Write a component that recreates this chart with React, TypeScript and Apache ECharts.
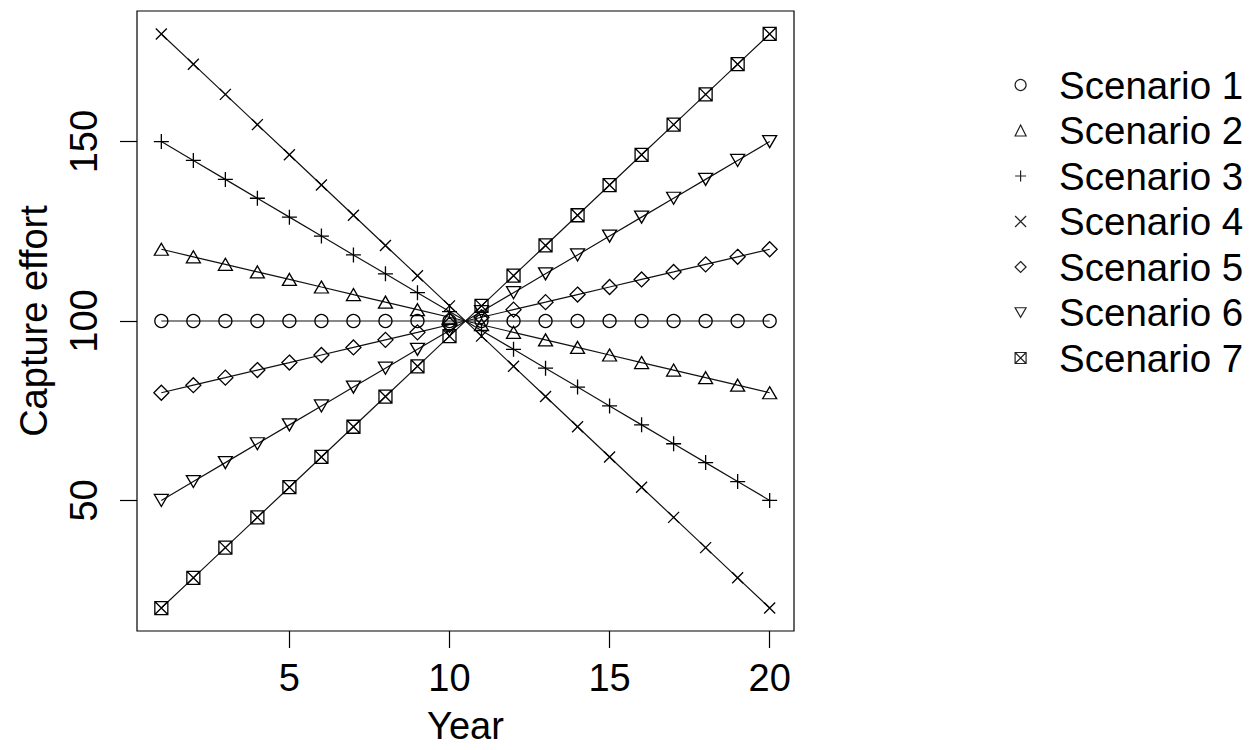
import React, { useEffect, useRef } from "react";
import * as echarts from "echarts";

const years = [1, 2, 3, 4, 5, 6, 7, 8, 9, 10, 11, 12, 13, 14, 15, 16, 17, 18, 19, 20];

const scenario1 = [100, 100, 100, 100, 100, 100, 100, 100, 100, 100, 100, 100, 100, 100, 100, 100, 100, 100, 100, 100];
const scenario2 = [120, 117.89, 115.79, 113.68, 111.58, 109.47, 107.37, 105.26, 103.16, 101.05, 98.95, 96.84, 94.74, 92.63, 90.53, 88.42, 86.32, 84.21, 82.11, 80];
const scenario3 = [150, 144.74, 139.47, 134.21, 128.95, 123.68, 118.42, 113.16, 107.89, 102.63, 97.37, 92.11, 86.84, 81.58, 76.32, 71.05, 65.79, 60.53, 55.26, 50];
const scenario4 = [180, 171.58, 163.16, 154.74, 146.32, 137.89, 129.47, 121.05, 112.63, 104.21, 95.79, 87.37, 78.95, 70.53, 62.11, 53.68, 45.26, 36.84, 28.42, 20];
const scenario5 = [80, 82.11, 84.21, 86.32, 88.42, 90.53, 92.63, 94.74, 96.84, 98.95, 101.05, 103.16, 105.26, 107.37, 109.47, 111.58, 113.68, 115.79, 117.89, 120];
const scenario6 = [50, 55.26, 60.53, 65.79, 71.05, 76.32, 81.58, 86.84, 92.11, 97.37, 102.63, 107.89, 113.16, 118.42, 123.68, 128.95, 134.21, 139.47, 144.74, 150];
const scenario7 = [20, 28.42, 36.84, 45.26, 53.68, 62.11, 70.53, 78.95, 87.37, 95.79, 104.21, 112.63, 121.05, 129.47, 137.89, 146.32, 154.74, 163.16, 171.58, 180];

const seriesNames = ["Scenario 1", "Scenario 2", "Scenario 3", "Scenario 4", "Scenario 5", "Scenario 6", "Scenario 7"];
const seriesValues = [scenario1, scenario2, scenario3, scenario4, scenario5, scenario6, scenario7];

const xTicks = [5, 10, 15, 20];
const yTicks = [50, 100, 150];

const symbols = [
  "circle",
  "triangle",
  "path://M0,5L10,5M5,0L5,10",
  "path://M0,0L10,10M10,0L0,10",
  "diamond",
  "path://M0,0L10,0L5,8.66Z",
  "path://M0,0L10,0L10,10L0,10ZM0,0L10,10M10,0L0,10",
];
const symbolSizes: any[] = [13, [14, 12], 15, 11, 15, [14, 12], 13];

const FONT = "'Liberation Sans', Arial, sans-serif";

export default function App() {
  const ref = useRef<HTMLDivElement>(null);
  useEffect(() => {
    if (!ref.current) return;
    const chart = echarts.init(ref.current, null, { renderer: "svg" });
    const markerStyle = { color: "rgba(0,0,0,0)", borderColor: "#000", borderWidth: 1.3 };
    const legendMarkerStyle = { color: "rgba(0,0,0,0)", borderColor: "#222", borderWidth: 1.2 };
    const option: any = {
      animation: false,
      backgroundColor: "#fff",
      textStyle: { fontFamily: FONT, color: "#000" },
      grid: {
        left: 137,
        right: 465,
        top: 11,
        bottom: 117,
        show: true,
        borderColor: "#000",
        borderWidth: 1.2,
        backgroundColor: "transparent",
      },
      xAxis: {
        type: "value",
        min: 0.24,
        max: 20.76,
        name: "Year",
        nameLocation: "middle",
        nameGap: 76,
        nameTextStyle: { fontSize: 38, color: "#000", fontFamily: FONT },
        axisLine: { show: false },
        splitLine: { show: false },
        axisTick: { show: true, length: 17, customValues: xTicks, lineStyle: { color: "#000", width: 1.2 } },
        axisLabel: { customValues: xTicks, fontSize: 38, color: "#000", margin: 28, fontFamily: FONT },
      },
      yAxis: {
        type: "value",
        min: 13.6,
        max: 186.4,
        name: "Capture effort",
        nameLocation: "middle",
        nameRotate: 90,
        nameGap: 84,
        nameTextStyle: { fontSize: 38, color: "#000", fontFamily: FONT },
        axisLine: { show: false },
        splitLine: { show: false },
        axisTick: { show: true, length: 17, customValues: yTicks, lineStyle: { color: "#000", width: 1.2 } },
        axisLabel: { customValues: yTicks, fontSize: 38, color: "#000", margin: 34, rotate: 90, fontFamily: FONT },
      },
      legend: {
        orient: "vertical",
        left: 1014.5,
        top: 65,
        padding: 0,
        itemGap: 5.5,
        itemWidth: 11,
        itemHeight: 11,
        selectedMode: false,
        textStyle: { fontSize: 38.5, color: "#000", lineHeight: 40, padding: [0, 0, 0, 28], fontFamily: FONT },
        data: seriesNames.map((n, i) => ({
          name: n,
          icon: symbols[i],
          itemStyle: legendMarkerStyle,
        })),
      },
      series: seriesNames.map((n, i) => ({
        name: n,
        type: "line",
        data: years.map((y, j) => [y, seriesValues[i][j]]),
        symbol: symbols[i],
        symbolSize: symbolSizes[i],
        showAllSymbol: true,
        itemStyle: markerStyle,
        lineStyle: { color: "#111", width: 1.2 },
        emphasis: { disabled: true },
        silent: true,
      })),
    };
    chart.setOption(option);
    return () => chart.dispose();
  }, []);
  return (
    <div
      ref={ref}
      style={{ position: "fixed", left: 0, top: 0, width: 1259, height: 750, background: "#fff" }}
    />
  );
}
